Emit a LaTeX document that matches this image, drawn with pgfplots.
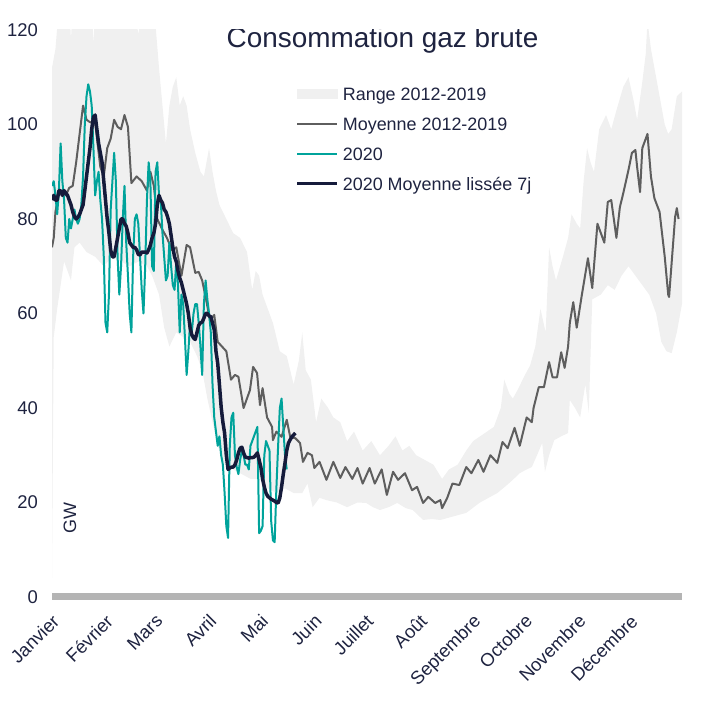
\documentclass[border=0pt]{standalone}
\usepackage{fontspec}
\setmainfont{Liberation Sans}
\usepackage{pgfplots}
\pgfplotsset{compat=1.18}
\usepgfplotslibrary{fillbetween}
\definecolor{rangec}{HTML}{F0F0F0}
\definecolor{moyc}{HTML}{5E5E5E}
\definecolor{tealc}{HTML}{00A39B}
\definecolor{navyc}{HTML}{151B3B}
\definecolor{txtc}{HTML}{1E2340}
\definecolor{basec}{HTML}{B4B4B4}
\begin{document}
\begin{tikzpicture}
\path (0bp,0bp) rectangle (710bp,709bp);
\begin{axis}[
  at={(52bp,112bp)}, anchor=south west,
  scale only axis, width=630bp, height=567bp,
  xmin=0, xmax=365, ymin=0, ymax=120,
  axis x line*=bottom, axis y line*=left,
  x axis line style={color=basec, line width=7bp, -},
  y axis line style={draw=none},
  major tick length=0pt,
  /pgf/number format/assume math mode=true,
  ytick={0,20,40,60,80,100,120},
  yticklabel style={font=\fontsize{18.5}{18.5}\selectfont, text=txtc, anchor=east, inner sep=0pt, xshift=-14bp},
  xtick={0,31,60,91,121,152,182,213,244,274,305,335},
  xticklabels={Janvier,Février,Mars,Avril,Mai,Juin,Juillet,Août,Septembre,Octobre,Novembre,Décembre},
  xticklabel style={font=\fontsize{18.5}{18.5}\selectfont, text=txtc, inner sep=0pt, xshift=-1bp, yshift=-16bp, rotate=45, anchor=north east},
  legend cell align=left,
  legend style={at={(0.386,0.8995)}, anchor=north west, draw=none, fill=none,
    font=\fontsize{18}{18}\selectfont, text=txtc, inner sep=0pt,
    row sep=17bp, column sep=4bp,
    nodes={inner sep=0pt, text height=13bp, text depth=0bp}},
]
\addplot[name path=U, draw=none, forget plot] coordinates {
(0,112) (2,116) (4,125) (10,125) (11,118) (12,125) (23,125) (24,117) (25,125) (48,125) (50,119) (52,125) (58,125) (60,121) (62,112) (64,104) (66,96) (68,104) (70,108) (72,110) (74,104) (76,106) (78,104) (80,99) (83,94) (86,90) (88,89) (91,95) (93,90) (95,86) (97,83) (101,80) (105,77) (109,76) (113,73) (116,65) (118,69) (120,68) (122,64) (124,62) (128,58) (132,52) (136,51) (140,45) (143,50) (145,56) (147,48) (150,46) (153,37) (156,42) (160,40) (163,38) (167,37) (171,33) (175,35) (180,31) (185,33) (190,30) (195,32) (199,34) (203,31) (207,32) (211,30) (216,29) (221,28) (226,25) (230,27) (235,28) (240,31) (244,33) (248,34) (252,35) (256,36) (260,40) (262,46) (265,43) (267,42) (270,44) (274,47) (277,49) (280,53) (283,61) (286,56) (288,74) (290,70) (292,67) (296,72) (299,76) (301,81) (304,79) (306,78) (308,88) (310,95) (312,92) (314,90) (317,99) (321,102) (324,99) (327,103) (331,108) (334,110) (337,105) (339,101) (342,109) (344,115) (345,122) (347,116) (349,112) (351,108) (353,104) (355,100) (357,98) (359,99) (362,106) (365,107)
};
\addplot[name path=L, draw=none, forget plot] coordinates {
(0,4) (1,55) (3,61) (5,66) (7,71) (9,69) (11,67) (13,74) (16,75) (20,73) (25,72) (30,70) (35,72) (40,71) (45,70) (50,71) (55,70) (58,68) (60,66) (62,64) (65,57) (68,53) (72,56) (76,55) (80,54) (84,51) (87,48) (90,42) (93,37) (96,32) (100,28) (105,27) (110,26) (115,25) (120,25) (125,23) (130,22) (135,23) (140,22) (145,22) (148,24) (151,19) (155,21) (159,20.5) (165,20) (171,19) (177,20) (182,19.9) (186,19) (190,18.4) (195,19) (200,19.9) (205,18.8) (209,18.4) (215,16.3) (220,16.5) (225,16.3) (232,17) (240,17.8) (248,20) (253,21) (258,22) (263,23.5) (267,24.8) (271,26.2) (275,27) (278,27.5) (281,30) (284,32.6) (285.6,26.5) (288,30) (291,33.2) (295,34) (299,34.7) (300,41.7) (303,40) (306,38) (309,45) (311,39) (313,63) (318,64) (322,66) (326,65) (330,68) (334,70) (338,68) (342,66) (346,64) (350,60) (353,54) (356,52) (359,51.6) (362,56) (365,62)
};
\addplot[rangec, legend image code/.code={\fill[rangec] (0bp,-4.5bp) rectangle (40bp,4.5bp);}] fill between[of=U and L];
\addlegendentry{Range 2012-2019}
\addplot[moyc, line width=2bp, line join=round, legend image code/.code={\draw[moyc, line width=2bp] (0bp,0bp) -- (40bp,0bp);}] coordinates {
(0,74) (1,76) (2,81.5) (4,85.5) (6,86) (8,85) (10,86.6) (12,87) (14,92) (16,98) (18,104) (20,101) (22,100.5) (25,100.3) (28,91) (30,89) (32,95) (34,97) (36,101) (38,99.5) (40,99) (42,102) (44,99.5) (46,87.6) (49,89) (52,88) (55,86) (57,90) (59,87) (61,80) (64,77.7) (66.6,76) (69.5,73.4) (72,74) (75,68) (78,74.5) (80,74) (83,68.6) (85,68.8) (87,67) (89,63.5) (91.5,58.6) (94,59.7) (96,54) (98.5,53) (101,52) (103.7,46) (106,47) (108,46.6) (111,40) (114.7,43.8) (116.5,48.7) (118.8,47.4) (120.5,40.6) (122,44.2) (124.6,38) (127.5,36) (128,33.2) (130,35) (133,33.9) (136,37.5) (138,33.9) (141,33.6) (143.7,32.6) (145.4,28.6) (148,30.5) (150.6,30) (152,27.3) (155,28.6) (159,24.8) (163,28.6) (167,25.2) (170,27.5) (174,25) (177,27.3) (180,24) (184,27.3) (187,24) (191,27) (194,21.6) (197.6,26.5) (200.5,24.8) (204.5,26.2) (208.6,22.6) (211.5,23.3) (215,19.9) (218,21.2) (222,19.9) (225,20.5) (226,18.8) (229,21) (232,24) (236,23.7) (240,27.5) (243,26.2) (247,29) (250,26.5) (254,30) (258,28.4) (261,32.8) (264,31.5) (268,35.8) (271,32) (275,38) (278,37) (279,40) (282,44.4) (285,44.4) (288,49.7) (290,46.5) (292.6,46.5) (295,51.8) (297,48.5) (299,53) (300,58) (302,62.4) (304,57) (307,64) (310.5,71.7) (313,65.4) (316,79) (320,75) (322,83.6) (324,84) (327,76) (329,82.5) (331,85.5) (334,90.4) (336,94) (338,94.6) (339,91) (340.7,85.7) (342,95) (345,98) (347,89) (349,84.4) (352,81.5) (355,72) (357,64) (357.5,63.5) (361,80.4) (362,82.3) (363,80)
};
\addlegendentry{Moyenne 2012-2019}
\addplot[tealc, line width=2bp, line join=round, legend image code/.code={\draw[tealc, line width=2bp] (0bp,0bp) -- (40bp,0bp);}] coordinates {
(0,87) (1,88) (2,85) (3,81) (4,86) (5,96) (6,88) (7,84) (8,76) (9,75) (10,80) (11,78) (12,80) (13,82) (14,80) (15,79) (16,80) (17,83) (18,89) (19,100) (20,106) (21,108.5) (22,107) (23,104) (24,95) (25,85) (26,88) (27,90) (28,84) (29,80) (30,72) (31,58) (32,56) (33,64) (34,82) (35,88) (36,94) (37,88) (38,72) (39,64) (40,70) (41,80) (42,87) (43,75) (44,68) (45,60) (46,56) (47,72) (48,80) (49,81) (50,79) (51,72) (52,65) (53,60) (54,70) (55,84) (56,92) (57,88) (58,70) (59,69) (60,90) (61,92) (62,85) (63,84) (64,77) (65,72) (66,67) (67,68) (68,75) (69,70) (70,66) (71,65) (72,71) (73,66) (74,56) (75,64) (76,62) (77,55) (78,47) (79,52) (80,58) (81,56) (82,60) (83,62) (84,62) (85,58) (86,53) (87,47) (88,62) (89,67) (90,63) (91,60) (92,56) (93,45) (94,38) (95,35) (96,32) (97,34) (98,30) (99,28) (100,22) (101,15) (102,12.5) (103,32) (104,38) (105,39) (106,30) (107,27.5) (108,26) (109,29) (110,31) (111,30) (112,28) (113,28) (114,27) (115,32) (116,33) (117,34) (118,35) (119,36) (120,13.5) (121,14) (122,15) (123,30) (124,33) (125,32) (126,31) (127,16) (128,12) (129,11.6) (130,23) (131,32) (132,40) (133,42) (134,36) (135,30) (136,27)
};
\addlegendentry{2020}
\addplot[navyc, line width=3.5bp, line join=round, legend image code/.code={\draw[navyc, line width=3.5bp] (0bp,0bp) -- (40bp,0bp);}] coordinates {
(0,84) (1,85) (2,84) (3,84) (4,86) (5,86) (6,85) (7,86) (8,85.5) (9,85) (10,84) (11,83) (12,81.5) (13,80.5) (14,80) (15,80.4) (16,81) (17,82) (18,83) (19,86) (20,89) (21,92) (22,95) (23,99) (24,101.6) (25,102) (26,99) (27,96) (28,94) (29,92) (30,88) (31,84) (32,80) (33,77) (34,73.4) (35,72) (36,72) (37,74) (38,76) (39,78) (40,80) (41,80) (42,79) (43,78.5) (44,77) (45,75) (46,74.5) (47,74) (48,74) (49,73.5) (50,72.5) (51,72.4) (52,73) (53,73) (54,73) (55,72.8) (56,73.5) (57,74.5) (58,76) (59,77) (60,79) (61,83) (62,85) (63,84) (64,83.4) (65,82) (66,81.5) (67,80.4) (68,79) (69,76.5) (70,74) (71,72) (72,71) (73,69) (74,67.5) (75,66.5) (76,65) (77,63.5) (78,62) (79,60) (80,57) (81,55.5) (82,54.8) (83,54.5) (84,56) (85,57.5) (86,58) (87,58.2) (88,59) (89,60) (90,60) (91,59.5) (92,59.3) (93,58) (94,56.5) (95,52) (96,49.5) (97,45) (98,40.2) (99,37) (100,34.7) (101,30) (102,27) (103,27.3) (104,27.5) (105,27.5) (106,28) (107,29) (108,30.5) (109,31.5) (110,31.7) (111,30.5) (112,29.6) (113,29.5) (114,29.4) (115,29.5) (116,29.5) (117,29.6) (118,30) (119,30.5) (120,29) (121,27.5) (122,25) (123,23.3) (124,22) (125,21.3) (126,21) (127,20.7) (128,20.5) (129,20.3) (130,20) (131,19.9) (132,21) (133,23.3) (134,26) (135,28.4) (136,31) (137,32.6) (138,33.3) (139,33.9) (140,34.3) (141,34.7)
};
\addlegendentry{2020 Moyenne lissée 7j}
\node[anchor=base, text=txtc, font=\fontsize{28}{28}\selectfont] at (rel axis cs:0.5246,0.970) {Consommation gaz brute};
\node[rotate=90, text=txtc, font=\fontsize{18}{18}\selectfont] at (axis cs:10.4,16.7) {GW};
\end{axis}
\end{tikzpicture}
\end{document}
